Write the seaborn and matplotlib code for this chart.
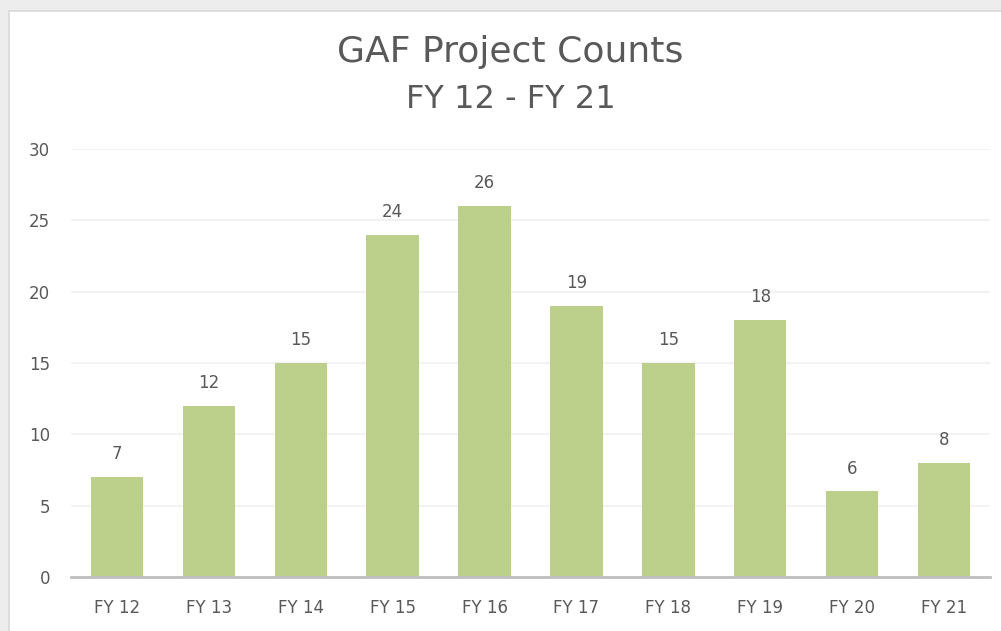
import matplotlib
matplotlib.use("Agg")
import matplotlib.pyplot as plt
import matplotlib.patches as patches
import pandas as pd
import seaborn as sns

# Chart data
years = ["FY 12", "FY 13", "FY 14", "FY 15", "FY 16", "FY 17", "FY 18", "FY 19", "FY 20", "FY 21"]
counts = [7, 12, 15, 24, 26, 19, 15, 18, 6, 8]
y_ticks = [0, 5, 10, 15, 20, 25, 30]

df = pd.DataFrame({"year": years, "count": counts})

sns.set_theme(style="white")
plt.rcParams["font.family"] = ["DejaVu Sans"]

text_col = "#595959"
bar_col = "#bccf8b"

fig = plt.figure(figsize=(10.01, 6.31), dpi=100)
fig.patch.set_facecolor("#ededed")

# white chart panel with a thin border, kept behind the axes
panel = patches.Rectangle((9 / 1001, -0.01), 1.0, (631 - 11) / 631 + 0.01,
                          transform=fig.transFigure, facecolor="white",
                          edgecolor="#d9d9d9", linewidth=1.2, zorder=-10)
fig.patches.append(panel)

ax = fig.add_axes([71 / 1001, (631 - 577) / 631, (990 - 71) / 1001, (577 - 149) / 631])
ax.set_facecolor("none")

sns.barplot(data=df, x="year", y="count", color=bar_col, saturation=1,
            width=0.57, ax=ax, zorder=2, linewidth=0)

ax.set_ylim(0, 30)
ax.set_xlim(-0.5, len(years) - 0.5)
ax.set_yticks(y_ticks)
ax.yaxis.grid(True, color="#f0f0f0", linewidth=1.2, zorder=0)
ax.set_axisbelow(True)
for s in ["top", "right", "left"]:
    ax.spines[s].set_visible(False)
ax.spines["bottom"].set_color("#bfbfbf")
ax.spines["bottom"].set_linewidth(2)
ax.spines["bottom"].set_zorder(3)

ax.tick_params(axis="y", length=0, pad=15, labelsize=12, labelcolor=text_col)
ax.tick_params(axis="x", length=0, pad=16, labelsize=12, labelcolor=text_col)
ax.set_xlabel("")
ax.set_ylabel("")

# value labels above the bars
for i, v in enumerate(counts):
    ax.annotate(str(v), (i, v), xytext=(0, 10), textcoords="offset points",
                ha="center", va="bottom", fontsize=12, color=text_col)

fig.text(0.51, 1 - 52 / 631, "GAF Project Counts", ha="center", va="center",
         fontsize=26, color=text_col)
fig.text(0.51, 1 - 100 / 631, "FY 12 - FY 21", ha="center", va="center",
         fontsize=23, color=text_col)

fig.savefig("out.png", dpi=100, facecolor=fig.get_facecolor())
